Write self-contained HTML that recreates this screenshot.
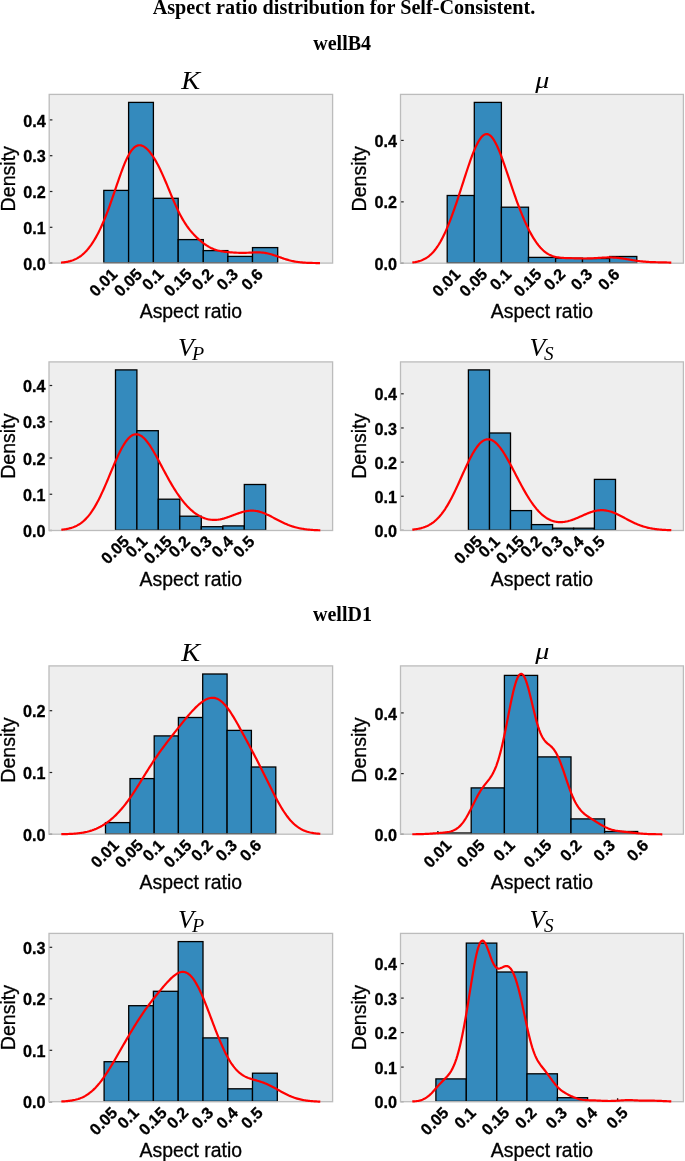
<!DOCTYPE html><html><head><meta charset="utf-8"><style>html,body{margin:0;padding:0;background:#fff;}svg{display:block;will-change:transform;}text{font-family:"Liberation Sans",sans-serif;}.tl{font-weight:bold;font-size:16.20px;fill:#000;stroke:#000;stroke-width:0.3px;}.al{font-size:19.40px;fill:#000;stroke:#000;stroke-width:0.3px;}.tt{font-family:"Liberation Serif",serif;font-style:italic;font-size:26.00px;fill:#000;}.sup{font-family:"Liberation Serif",serif;font-weight:bold;fill:#000;}</style></head><body>
<svg width="685" height="1161" viewBox="0 0 685 1161">
<rect width="685" height="1161" fill="#fff"/>
<text class="sup" x="344.0" y="13.60" text-anchor="middle" style="font-size:20.20px">Aspect ratio distribution for Self-Consistent.</text>
<text class="sup" x="342.2" y="49.8" text-anchor="middle" style="font-size:20.00px">wellB4</text>
<text class="sup" x="342.5" y="620.5" text-anchor="middle" style="font-size:20.00px">wellD1</text>
<rect x="49.20" y="94.40" width="283.40" height="168.70" fill="#eeeeee"/>
<rect x="103.80" y="190.40" width="24.80" height="72.40" fill="#348ABD" stroke="#000" stroke-width="1.3"/>
<rect x="128.60" y="102.40" width="24.80" height="160.40" fill="#348ABD" stroke="#000" stroke-width="1.3"/>
<rect x="153.40" y="198.30" width="24.80" height="64.50" fill="#348ABD" stroke="#000" stroke-width="1.3"/>
<rect x="178.20" y="239.60" width="25.10" height="23.20" fill="#348ABD" stroke="#000" stroke-width="1.3"/>
<rect x="203.30" y="250.60" width="24.60" height="12.20" fill="#348ABD" stroke="#000" stroke-width="1.3"/>
<rect x="227.90" y="256.40" width="24.60" height="6.40" fill="#348ABD" stroke="#000" stroke-width="1.3"/>
<rect x="252.50" y="247.60" width="25.20" height="15.20" fill="#348ABD" stroke="#000" stroke-width="1.3"/>
<line x1="49.20" y1="263.10" x2="52.40" y2="263.10" stroke="#222" stroke-width="1.2"/>
<line x1="49.20" y1="227.30" x2="52.40" y2="227.30" stroke="#222" stroke-width="1.2"/>
<line x1="49.20" y1="191.50" x2="52.40" y2="191.50" stroke="#222" stroke-width="1.2"/>
<line x1="49.20" y1="155.70" x2="52.40" y2="155.70" stroke="#222" stroke-width="1.2"/>
<line x1="49.20" y1="119.90" x2="52.40" y2="119.90" stroke="#222" stroke-width="1.2"/>
<rect x="49.20" y="94.40" width="283.40" height="168.70" fill="none" stroke="#bcbcbc" stroke-width="1.3"/>
<path d="M61.00,262.60 L62.00,262.51 L63.00,262.41 L64.00,262.29 L65.00,262.15 L66.00,262.00 L67.00,261.82 L68.00,261.62 L69.00,261.39 L70.00,261.14 L71.00,260.85 L72.00,260.54 L73.00,260.18 L74.00,259.79 L75.00,259.36 L76.00,258.89 L77.00,258.37 L78.00,257.80 L79.00,257.18 L80.00,256.51 L81.00,255.78 L82.00,254.99 L83.00,254.15 L84.00,253.25 L85.00,252.28 L86.00,251.25 L87.00,250.15 L88.00,248.98 L89.00,247.75 L90.00,246.45 L91.00,245.08 L92.00,243.63 L93.00,242.11 L94.00,240.52 L95.00,238.86 L96.00,237.12 L97.00,235.30 L98.00,233.41 L99.00,231.44 L100.00,229.39 L101.00,227.27 L102.00,225.06 L103.00,222.78 L104.00,220.43 L105.00,217.99 L106.00,215.49 L107.00,212.91 L108.00,210.27 L109.00,207.57 L110.00,204.80 L111.00,201.98 L112.00,199.12 L113.00,196.23 L114.00,193.30 L115.00,190.36 L116.00,187.41 L117.00,184.46 L118.00,181.53 L119.00,178.64 L120.00,175.79 L121.00,173.00 L122.00,170.28 L123.00,167.65 L124.00,165.12 L125.00,162.70 L126.00,160.41 L127.00,158.26 L128.00,156.25 L129.00,154.40 L130.00,152.71 L131.00,151.19 L132.00,149.85 L133.00,148.67 L134.00,147.67 L135.00,146.85 L136.00,146.20 L137.00,145.72 L138.00,145.41 L139.00,145.25 L140.00,145.25 L141.00,145.40 L142.00,145.69 L143.00,146.11 L144.00,146.66 L145.00,147.34 L146.00,148.12 L147.00,149.02 L148.00,150.02 L149.00,151.12 L150.00,152.32 L151.00,153.62 L152.00,155.00 L153.00,156.47 L154.00,158.03 L155.00,159.68 L156.00,161.41 L157.00,163.22 L158.00,165.10 L159.00,167.07 L160.00,169.10 L161.00,171.21 L162.00,173.37 L163.00,175.60 L164.00,177.88 L165.00,180.20 L166.00,182.55 L167.00,184.94 L168.00,187.34 L169.00,189.76 L170.00,192.17 L171.00,194.58 L172.00,196.97 L173.00,199.32 L174.00,201.65 L175.00,203.93 L176.00,206.15 L177.00,208.32 L178.00,210.42 L179.00,212.46 L180.00,214.43 L181.00,216.32 L182.00,218.14 L183.00,219.88 L184.00,221.55 L185.00,223.14 L186.00,224.66 L187.00,226.12 L188.00,227.51 L189.00,228.84 L190.00,230.12 L191.00,231.34 L192.00,232.51 L193.00,233.63 L194.00,234.71 L195.00,235.75 L196.00,236.76 L197.00,237.73 L198.00,238.66 L199.00,239.57 L200.00,240.44 L201.00,241.28 L202.00,242.09 L203.00,242.87 L204.00,243.62 L205.00,244.33 L206.00,245.02 L207.00,245.67 L208.00,246.28 L209.00,246.86 L210.00,247.40 L211.00,247.91 L212.00,248.38 L213.00,248.82 L214.00,249.22 L215.00,249.59 L216.00,249.92 L217.00,250.23 L218.00,250.51 L219.00,250.75 L220.00,250.98 L221.00,251.18 L222.00,251.36 L223.00,251.52 L224.00,251.67 L225.00,251.80 L226.00,251.92 L227.00,252.03 L228.00,252.13 L229.00,252.22 L230.00,252.30 L231.00,252.38 L232.00,252.45 L233.00,252.52 L234.00,252.58 L235.00,252.64 L236.00,252.69 L237.00,252.73 L238.00,252.77 L239.00,252.80 L240.00,252.83 L241.00,252.84 L242.00,252.85 L243.00,252.85 L244.00,252.84 L245.00,252.82 L246.00,252.80 L247.00,252.76 L248.00,252.73 L249.00,252.68 L250.00,252.64 L251.00,252.59 L252.00,252.54 L253.00,252.50 L254.00,252.46 L255.00,252.42 L256.00,252.40 L257.00,252.39 L258.00,252.39 L259.00,252.40 L260.00,252.44 L261.00,252.49 L262.00,252.57 L263.00,252.66 L264.00,252.78 L265.00,252.93 L266.00,253.09 L267.00,253.28 L268.00,253.49 L269.00,253.73 L270.00,253.99 L271.00,254.26 L272.00,254.55 L273.00,254.86 L274.00,255.19 L275.00,255.52 L276.00,255.87 L277.00,256.22 L278.00,256.58 L279.00,256.94 L280.00,257.29 L281.00,257.65 L282.00,258.00 L283.00,258.35 L284.00,258.69 L285.00,259.02 L286.00,259.33 L287.00,259.64 L288.00,259.93 L289.00,260.21 L290.00,260.47 L291.00,260.72 L292.00,260.95 L293.00,261.16 L294.00,261.36 L295.00,261.55 L296.00,261.72 L297.00,261.88 L298.00,262.02 L299.00,262.15 L300.00,262.26 L301.00,262.37 L302.00,262.46 L303.00,262.55 L304.00,262.62 L305.00,262.69 L306.00,262.75 L307.00,262.80 L308.00,262.84 L309.00,262.88 L310.00,262.91 L311.00,262.94 L312.00,262.97 L313.00,262.99 L314.00,263.01 L315.00,263.02 L316.00,263.04 L317.00,263.05 L318.00,263.06 L319.00,263.06 L320.00,263.07" fill="none" stroke="#ff0000" stroke-width="2.2" stroke-linejoin="round" stroke-linecap="butt"/>
<text class="tl" x="45.70" y="269.73" text-anchor="end">0.0</text>
<text class="tl" x="45.70" y="233.93" text-anchor="end">0.1</text>
<text class="tl" x="45.70" y="198.13" text-anchor="end">0.2</text>
<text class="tl" x="45.70" y="162.33" text-anchor="end">0.3</text>
<text class="tl" x="45.70" y="126.53" text-anchor="end">0.4</text>
<text class="tl" transform="translate(118.25,275.30) rotate(-45)" x="0" y="0" text-anchor="end">0.01</text>
<text class="tl" transform="translate(143.05,275.30) rotate(-45)" x="0" y="0" text-anchor="end">0.05</text>
<text class="tl" transform="translate(164.66,275.30) rotate(-45)" x="0" y="0" text-anchor="end">0.1</text>
<text class="tl" transform="translate(192.80,275.30) rotate(-45)" x="0" y="0" text-anchor="end">0.15</text>
<text class="tl" transform="translate(214.46,275.30) rotate(-45)" x="0" y="0" text-anchor="end">0.2</text>
<text class="tl" transform="translate(239.06,275.30) rotate(-45)" x="0" y="0" text-anchor="end">0.3</text>
<text class="tl" transform="translate(263.96,275.30) rotate(-45)" x="0" y="0" text-anchor="end">0.6</text>
<text class="al" x="190.90" y="318.10" text-anchor="middle">Aspect ratio</text>
<text class="al" transform="translate(14.70,178.75) rotate(-90)" x="0" y="0" text-anchor="middle" style="font-size:19.60px">Density</text>
<text class="tt" transform="translate(181.30,89.00) scale(1.170,1)" style="font-size:24.20px">K</text>
<rect x="400.50" y="94.40" width="282.90" height="168.80" fill="#eeeeee"/>
<rect x="447.20" y="195.50" width="27.10" height="67.40" fill="#348ABD" stroke="#000" stroke-width="1.3"/>
<rect x="474.30" y="102.40" width="27.10" height="160.50" fill="#348ABD" stroke="#000" stroke-width="1.3"/>
<rect x="501.40" y="207.20" width="27.10" height="55.70" fill="#348ABD" stroke="#000" stroke-width="1.3"/>
<rect x="528.50" y="257.40" width="27.10" height="5.50" fill="#348ABD" stroke="#000" stroke-width="1.3"/>
<rect x="555.60" y="258.20" width="26.90" height="4.70" fill="#348ABD" stroke="#000" stroke-width="1.3"/>
<rect x="582.50" y="258.50" width="27.10" height="4.40" fill="#348ABD" stroke="#000" stroke-width="1.3"/>
<rect x="609.60" y="256.50" width="27.20" height="6.40" fill="#348ABD" stroke="#000" stroke-width="1.3"/>
<line x1="400.50" y1="263.30" x2="403.70" y2="263.30" stroke="#222" stroke-width="1.2"/>
<line x1="400.50" y1="201.86" x2="403.70" y2="201.86" stroke="#222" stroke-width="1.2"/>
<line x1="400.50" y1="140.42" x2="403.70" y2="140.42" stroke="#222" stroke-width="1.2"/>
<rect x="400.50" y="94.40" width="282.90" height="168.80" fill="none" stroke="#bcbcbc" stroke-width="1.3"/>
<path d="M412.30,262.52 L413.30,262.38 L414.30,262.23 L415.30,262.06 L416.30,261.86 L417.30,261.64 L418.30,261.39 L419.30,261.10 L420.30,260.79 L421.30,260.43 L422.30,260.03 L423.30,259.59 L424.30,259.10 L425.30,258.55 L426.30,257.95 L427.30,257.30 L428.30,256.58 L429.30,255.79 L430.30,254.93 L431.30,254.00 L432.30,253.00 L433.30,251.92 L434.30,250.75 L435.30,249.50 L436.30,248.17 L437.30,246.75 L438.30,245.23 L439.30,243.63 L440.30,241.94 L441.30,240.15 L442.30,238.27 L443.30,236.30 L444.30,234.24 L445.30,232.09 L446.30,229.85 L447.30,227.53 L448.30,225.12 L449.30,222.64 L450.30,220.07 L451.30,217.43 L452.30,214.73 L453.30,211.95 L454.30,209.12 L455.30,206.23 L456.30,203.29 L457.30,200.30 L458.30,197.27 L459.30,194.21 L460.30,191.13 L461.30,188.02 L462.30,184.91 L463.30,181.79 L464.30,178.68 L465.30,175.58 L466.30,172.51 L467.30,169.47 L468.30,166.48 L469.30,163.55 L470.30,160.68 L471.30,157.90 L472.30,155.21 L473.30,152.63 L474.30,150.17 L475.30,147.84 L476.30,145.65 L477.30,143.62 L478.30,141.75 L479.30,140.07 L480.30,138.58 L481.30,137.28 L482.30,136.20 L483.30,135.33 L484.30,134.68 L485.30,134.26 L486.30,134.07 L487.30,134.12 L488.30,134.39 L489.30,134.89 L490.30,135.62 L491.30,136.58 L492.30,137.74 L493.30,139.12 L494.30,140.69 L495.30,142.46 L496.30,144.39 L497.30,146.49 L498.30,148.75 L499.30,151.13 L500.30,153.65 L501.30,156.26 L502.30,158.98 L503.30,161.77 L504.30,164.62 L505.30,167.53 L506.30,170.48 L507.30,173.45 L508.30,176.44 L509.30,179.43 L510.30,182.42 L511.30,185.39 L512.30,188.34 L513.30,191.26 L514.30,194.15 L515.30,196.99 L516.30,199.79 L517.30,202.53 L518.30,205.22 L519.30,207.86 L520.30,210.43 L521.30,212.95 L522.30,215.40 L523.30,217.79 L524.30,220.10 L525.30,222.36 L526.30,224.54 L527.30,226.65 L528.30,228.70 L529.30,230.67 L530.30,232.57 L531.30,234.40 L532.30,236.15 L533.30,237.83 L534.30,239.43 L535.30,240.96 L536.30,242.41 L537.30,243.78 L538.30,245.08 L539.30,246.31 L540.30,247.45 L541.30,248.53 L542.30,249.53 L543.30,250.46 L544.30,251.32 L545.30,252.11 L546.30,252.84 L547.30,253.50 L548.30,254.10 L549.30,254.64 L550.30,255.13 L551.30,255.56 L552.30,255.95 L553.30,256.29 L554.30,256.58 L555.30,256.84 L556.30,257.07 L557.30,257.26 L558.30,257.42 L559.30,257.56 L560.30,257.68 L561.30,257.77 L562.30,257.85 L563.30,257.92 L564.30,257.98 L565.30,258.03 L566.30,258.07 L567.30,258.10 L568.30,258.14 L569.30,258.17 L570.30,258.19 L571.30,258.22 L572.30,258.25 L573.30,258.27 L574.30,258.30 L575.30,258.33 L576.30,258.35 L577.30,258.38 L578.30,258.40 L579.30,258.43 L580.30,258.45 L581.30,258.46 L582.30,258.48 L583.30,258.49 L584.30,258.49 L585.30,258.49 L586.30,258.48 L587.30,258.47 L588.30,258.45 L589.30,258.43 L590.30,258.39 L591.30,258.36 L592.30,258.31 L593.30,258.26 L594.30,258.20 L595.30,258.14 L596.30,258.08 L597.30,258.01 L598.30,257.94 L599.30,257.88 L600.30,257.81 L601.30,257.74 L602.30,257.68 L603.30,257.62 L604.30,257.57 L605.30,257.53 L606.30,257.49 L607.30,257.46 L608.30,257.44 L609.30,257.44 L610.30,257.44 L611.30,257.46 L612.30,257.49 L613.30,257.53 L614.30,257.59 L615.30,257.65 L616.30,257.73 L617.30,257.83 L618.30,257.93 L619.30,258.05 L620.30,258.17 L621.30,258.31 L622.30,258.46 L623.30,258.61 L624.30,258.76 L625.30,258.93 L626.30,259.09 L627.30,259.26 L628.30,259.44 L629.30,259.61 L630.30,259.78 L631.30,259.95 L632.30,260.11 L633.30,260.28 L634.30,260.43 L635.30,260.59 L636.30,260.73 L637.30,260.87 L638.30,261.00 L639.30,261.13 L640.30,261.25 L641.30,261.36 L642.30,261.46 L643.30,261.56 L644.30,261.64 L645.30,261.72 L646.30,261.80 L647.30,261.86 L648.30,261.92 L649.30,261.98 L650.30,262.03 L651.30,262.07 L652.30,262.11 L653.30,262.15 L654.30,262.18 L655.30,262.21 L656.30,262.24 L657.30,262.26 L658.30,262.28 L659.30,262.31 L660.30,262.33 L661.30,262.35 L662.30,262.37 L663.30,262.39 L664.30,262.41 L665.30,262.44 L666.30,262.46 L667.30,262.48 L668.30,262.50 L669.30,262.53 L670.30,262.56 L671.30,262.58" fill="none" stroke="#ff0000" stroke-width="2.2" stroke-linejoin="round" stroke-linecap="butt"/>
<text class="tl" x="397.00" y="269.93" text-anchor="end">0.0</text>
<text class="tl" x="397.00" y="208.49" text-anchor="end">0.2</text>
<text class="tl" x="397.00" y="147.05" text-anchor="end">0.4</text>
<text class="tl" transform="translate(461.30,275.40) rotate(-45)" x="0" y="0" text-anchor="end">0.01</text>
<text class="tl" transform="translate(488.40,275.40) rotate(-45)" x="0" y="0" text-anchor="end">0.05</text>
<text class="tl" transform="translate(512.31,275.40) rotate(-45)" x="0" y="0" text-anchor="end">0.1</text>
<text class="tl" transform="translate(542.60,275.40) rotate(-45)" x="0" y="0" text-anchor="end">0.15</text>
<text class="tl" transform="translate(566.41,275.40) rotate(-45)" x="0" y="0" text-anchor="end">0.2</text>
<text class="tl" transform="translate(593.41,275.40) rotate(-45)" x="0" y="0" text-anchor="end">0.3</text>
<text class="tl" transform="translate(620.56,275.40) rotate(-45)" x="0" y="0" text-anchor="end">0.6</text>
<text class="al" x="541.95" y="318.20" text-anchor="middle">Aspect ratio</text>
<text class="al" transform="translate(366.00,178.80) rotate(-90)" x="0" y="0" text-anchor="middle" style="font-size:19.60px">Density</text>
<text class="tt" transform="translate(535.30,87.80) scale(1.170,1)" style="font-size:24.00px">&#956;</text>
<rect x="49.00" y="361.90" width="283.60" height="168.60" fill="#eeeeee"/>
<rect x="115.50" y="369.90" width="21.40" height="160.30" fill="#348ABD" stroke="#000" stroke-width="1.3"/>
<rect x="136.90" y="430.70" width="21.40" height="99.50" fill="#348ABD" stroke="#000" stroke-width="1.3"/>
<rect x="158.30" y="499.20" width="21.50" height="31.00" fill="#348ABD" stroke="#000" stroke-width="1.3"/>
<rect x="179.80" y="516.20" width="21.50" height="14.00" fill="#348ABD" stroke="#000" stroke-width="1.3"/>
<rect x="201.30" y="526.70" width="21.60" height="3.50" fill="#348ABD" stroke="#000" stroke-width="1.3"/>
<rect x="222.90" y="525.90" width="21.40" height="4.30" fill="#348ABD" stroke="#000" stroke-width="1.3"/>
<rect x="244.30" y="484.50" width="21.40" height="45.70" fill="#348ABD" stroke="#000" stroke-width="1.3"/>
<line x1="49.00" y1="530.50" x2="52.20" y2="530.50" stroke="#222" stroke-width="1.2"/>
<line x1="49.00" y1="494.25" x2="52.20" y2="494.25" stroke="#222" stroke-width="1.2"/>
<line x1="49.00" y1="458.00" x2="52.20" y2="458.00" stroke="#222" stroke-width="1.2"/>
<line x1="49.00" y1="421.75" x2="52.20" y2="421.75" stroke="#222" stroke-width="1.2"/>
<line x1="49.00" y1="385.50" x2="52.20" y2="385.50" stroke="#222" stroke-width="1.2"/>
<rect x="49.00" y="361.90" width="283.60" height="168.60" fill="none" stroke="#bcbcbc" stroke-width="1.3"/>
<path d="M61.30,529.76 L62.30,529.65 L63.30,529.53 L64.30,529.39 L65.30,529.24 L66.30,529.07 L67.30,528.88 L68.30,528.67 L69.30,528.43 L70.30,528.16 L71.30,527.87 L72.30,527.55 L73.30,527.19 L74.30,526.80 L75.30,526.37 L76.30,525.90 L77.30,525.39 L78.30,524.83 L79.30,524.22 L80.30,523.56 L81.30,522.85 L82.30,522.08 L83.30,521.24 L84.30,520.35 L85.30,519.39 L86.30,518.37 L87.30,517.27 L88.30,516.11 L89.30,514.87 L90.30,513.56 L91.30,512.18 L92.30,510.72 L93.30,509.18 L94.30,507.57 L95.30,505.88 L96.30,504.13 L97.30,502.29 L98.30,500.39 L99.30,498.42 L100.30,496.39 L101.30,494.29 L102.30,492.14 L103.30,489.94 L104.30,487.69 L105.30,485.39 L106.30,483.07 L107.30,480.71 L108.30,478.33 L109.30,475.94 L110.30,473.53 L111.30,471.13 L112.30,468.74 L113.30,466.37 L114.30,464.02 L115.30,461.71 L116.30,459.44 L117.30,457.23 L118.30,455.07 L119.30,452.98 L120.30,450.97 L121.30,449.05 L122.30,447.22 L123.30,445.48 L124.30,443.86 L125.30,442.34 L126.30,440.95 L127.30,439.67 L128.30,438.53 L129.30,437.51 L130.30,436.63 L131.30,435.88 L132.30,435.28 L133.30,434.81 L134.30,434.48 L135.30,434.29 L136.30,434.24 L137.30,434.33 L138.30,434.55 L139.30,434.90 L140.30,435.39 L141.30,435.99 L142.30,436.72 L143.30,437.56 L144.30,438.51 L145.30,439.56 L146.30,440.72 L147.30,441.97 L148.30,443.30 L149.30,444.72 L150.30,446.21 L151.30,447.76 L152.30,449.38 L153.30,451.05 L154.30,452.77 L155.30,454.53 L156.30,456.33 L157.30,458.15 L158.30,460.00 L159.30,461.87 L160.30,463.75 L161.30,465.63 L162.30,467.52 L163.30,469.40 L164.30,471.28 L165.30,473.14 L166.30,474.99 L167.30,476.82 L168.30,478.63 L169.30,480.42 L170.30,482.17 L171.30,483.90 L172.30,485.59 L173.30,487.25 L174.30,488.87 L175.30,490.45 L176.30,491.99 L177.30,493.50 L178.30,494.96 L179.30,496.38 L180.30,497.76 L181.30,499.10 L182.30,500.39 L183.30,501.64 L184.30,502.85 L185.30,504.01 L186.30,505.13 L187.30,506.21 L188.30,507.24 L189.30,508.23 L190.30,509.18 L191.30,510.09 L192.30,510.95 L193.30,511.78 L194.30,512.56 L195.30,513.30 L196.30,514.00 L197.30,514.66 L198.30,515.28 L199.30,515.86 L200.30,516.39 L201.30,516.89 L202.30,517.35 L203.30,517.77 L204.30,518.16 L205.30,518.50 L206.30,518.80 L207.30,519.07 L208.30,519.30 L209.30,519.49 L210.30,519.65 L211.30,519.76 L212.30,519.85 L213.30,519.89 L214.30,519.91 L215.30,519.89 L216.30,519.83 L217.30,519.75 L218.30,519.63 L219.30,519.48 L220.30,519.31 L221.30,519.10 L222.30,518.88 L223.30,518.62 L224.30,518.35 L225.30,518.05 L226.30,517.74 L227.30,517.41 L228.30,517.06 L229.30,516.71 L230.30,516.34 L231.30,515.97 L232.30,515.59 L233.30,515.20 L234.30,514.82 L235.30,514.44 L236.30,514.07 L237.30,513.70 L238.30,513.34 L239.30,513.00 L240.30,512.67 L241.30,512.35 L242.30,512.06 L243.30,511.79 L244.30,511.55 L245.30,511.33 L246.30,511.14 L247.30,510.98 L248.30,510.85 L249.30,510.75 L250.30,510.68 L251.30,510.65 L252.30,510.65 L253.30,510.69 L254.30,510.77 L255.30,510.88 L256.30,511.02 L257.30,511.20 L258.30,511.41 L259.30,511.66 L260.30,511.94 L261.30,512.24 L262.30,512.58 L263.30,512.94 L264.30,513.33 L265.30,513.74 L266.30,514.18 L267.30,514.63 L268.30,515.10 L269.30,515.59 L270.30,516.09 L271.30,516.59 L272.30,517.11 L273.30,517.63 L274.30,518.16 L275.30,518.69 L276.30,519.22 L277.30,519.74 L278.30,520.26 L279.30,520.78 L280.30,521.29 L281.30,521.79 L282.30,522.27 L283.30,522.75 L284.30,523.21 L285.30,523.66 L286.30,524.09 L287.30,524.51 L288.30,524.92 L289.30,525.30 L290.30,525.67 L291.30,526.02 L292.30,526.36 L293.30,526.67 L294.30,526.97 L295.30,527.25 L296.30,527.52 L297.30,527.77 L298.30,528.00 L299.30,528.22 L300.30,528.43 L301.30,528.61 L302.30,528.79 L303.30,528.95 L304.30,529.10 L305.30,529.24 L306.30,529.37 L307.30,529.48 L308.30,529.59 L309.30,529.68 L310.30,529.77 L311.30,529.85 L312.30,529.92 L313.30,529.99 L314.30,530.05 L315.30,530.10 L316.30,530.15 L317.30,530.19 L318.30,530.23 L319.30,530.26 L320.30,530.29" fill="none" stroke="#ff0000" stroke-width="2.2" stroke-linejoin="round" stroke-linecap="butt"/>
<text class="tl" x="45.50" y="537.13" text-anchor="end">0.0</text>
<text class="tl" x="45.50" y="500.88" text-anchor="end">0.1</text>
<text class="tl" x="45.50" y="464.63" text-anchor="end">0.2</text>
<text class="tl" x="45.50" y="428.38" text-anchor="end">0.3</text>
<text class="tl" x="45.50" y="392.13" text-anchor="end">0.4</text>
<text class="tl" transform="translate(130.05,542.70) rotate(-45)" x="0" y="0" text-anchor="end">0.05</text>
<text class="tl" transform="translate(148.26,542.70) rotate(-45)" x="0" y="0" text-anchor="end">0.1</text>
<text class="tl" transform="translate(172.90,542.70) rotate(-45)" x="0" y="0" text-anchor="end">0.15</text>
<text class="tl" transform="translate(191.21,542.70) rotate(-45)" x="0" y="0" text-anchor="end">0.2</text>
<text class="tl" transform="translate(212.76,542.70) rotate(-45)" x="0" y="0" text-anchor="end">0.3</text>
<text class="tl" transform="translate(234.26,542.70) rotate(-45)" x="0" y="0" text-anchor="end">0.4</text>
<text class="tl" transform="translate(255.66,542.70) rotate(-45)" x="0" y="0" text-anchor="end">0.5</text>
<text class="al" x="190.80" y="585.50" text-anchor="middle">Aspect ratio</text>
<text class="al" transform="translate(14.50,446.20) rotate(-90)" x="0" y="0" text-anchor="middle" style="font-size:19.60px">Density</text>
<text class="tt" transform="translate(178.00,356.00) scale(1.000,1)" style="font-size:26.00px">V</text>
<text class="tt" transform="translate(192.00,360.00) scale(1.120,1)" style="font-size:17.80px">P</text>
<rect x="400.50" y="361.90" width="282.90" height="168.60" fill="#eeeeee"/>
<rect x="468.40" y="369.90" width="21.10" height="160.30" fill="#348ABD" stroke="#000" stroke-width="1.3"/>
<rect x="489.50" y="433.00" width="21.00" height="97.20" fill="#348ABD" stroke="#000" stroke-width="1.3"/>
<rect x="510.50" y="510.60" width="21.00" height="19.60" fill="#348ABD" stroke="#000" stroke-width="1.3"/>
<rect x="531.50" y="524.60" width="21.10" height="5.60" fill="#348ABD" stroke="#000" stroke-width="1.3"/>
<rect x="552.60" y="528.20" width="21.00" height="2.00" fill="#348ABD" stroke="#000" stroke-width="1.3"/>
<rect x="573.60" y="528.20" width="20.80" height="2.00" fill="#348ABD" stroke="#000" stroke-width="1.3"/>
<rect x="594.40" y="479.40" width="21.10" height="50.80" fill="#348ABD" stroke="#000" stroke-width="1.3"/>
<line x1="400.50" y1="530.40" x2="403.70" y2="530.40" stroke="#222" stroke-width="1.2"/>
<line x1="400.50" y1="496.25" x2="403.70" y2="496.25" stroke="#222" stroke-width="1.2"/>
<line x1="400.50" y1="462.10" x2="403.70" y2="462.10" stroke="#222" stroke-width="1.2"/>
<line x1="400.50" y1="427.95" x2="403.70" y2="427.95" stroke="#222" stroke-width="1.2"/>
<line x1="400.50" y1="393.80" x2="403.70" y2="393.80" stroke="#222" stroke-width="1.2"/>
<rect x="400.50" y="361.90" width="282.90" height="168.60" fill="none" stroke="#bcbcbc" stroke-width="1.3"/>
<path d="M412.30,529.65 L413.30,529.54 L414.30,529.42 L415.30,529.28 L416.30,529.13 L417.30,528.97 L418.30,528.78 L419.30,528.57 L420.30,528.34 L421.30,528.09 L422.30,527.80 L423.30,527.49 L424.30,527.15 L425.30,526.78 L426.30,526.37 L427.30,525.92 L428.30,525.43 L429.30,524.90 L430.30,524.32 L431.30,523.70 L432.30,523.02 L433.30,522.29 L434.30,521.51 L435.30,520.67 L436.30,519.77 L437.30,518.81 L438.30,517.79 L439.30,516.70 L440.30,515.55 L441.30,514.33 L442.30,513.04 L443.30,511.69 L444.30,510.26 L445.30,508.77 L446.30,507.20 L447.30,505.57 L448.30,503.88 L449.30,502.12 L450.30,500.30 L451.30,498.42 L452.30,496.48 L453.30,494.50 L454.30,492.46 L455.30,490.38 L456.30,488.26 L457.30,486.10 L458.30,483.92 L459.30,481.72 L460.30,479.50 L461.30,477.28 L462.30,475.05 L463.30,472.82 L464.30,470.62 L465.30,468.43 L466.30,466.27 L467.30,464.14 L468.30,462.06 L469.30,460.03 L470.30,458.06 L471.30,456.16 L472.30,454.32 L473.30,452.57 L474.30,450.91 L475.30,449.34 L476.30,447.86 L477.30,446.49 L478.30,445.23 L479.30,444.08 L480.30,443.05 L481.30,442.13 L482.30,441.34 L483.30,440.68 L484.30,440.14 L485.30,439.72 L486.30,439.44 L487.30,439.28 L488.30,439.25 L489.30,439.34 L490.30,439.56 L491.30,439.90 L492.30,440.36 L493.30,440.94 L494.30,441.63 L495.30,442.43 L496.30,443.33 L497.30,444.33 L498.30,445.44 L499.30,446.63 L500.30,447.91 L501.30,449.27 L502.30,450.70 L503.30,452.21 L504.30,453.78 L505.30,455.41 L506.30,457.09 L507.30,458.83 L508.30,460.60 L509.30,462.41 L510.30,464.26 L511.30,466.13 L512.30,468.02 L513.30,469.93 L514.30,471.85 L515.30,473.77 L516.30,475.70 L517.30,477.62 L518.30,479.54 L519.30,481.44 L520.30,483.33 L521.30,485.19 L522.30,487.03 L523.30,488.85 L524.30,490.63 L525.30,492.38 L526.30,494.09 L527.30,495.76 L528.30,497.39 L529.30,498.98 L530.30,500.51 L531.30,502.00 L532.30,503.44 L533.30,504.83 L534.30,506.16 L535.30,507.44 L536.30,508.67 L537.30,509.84 L538.30,510.95 L539.30,512.01 L540.30,513.01 L541.30,513.96 L542.30,514.84 L543.30,515.68 L544.30,516.46 L545.30,517.18 L546.30,517.85 L547.30,518.47 L548.30,519.03 L549.30,519.55 L550.30,520.01 L551.30,520.42 L552.30,520.79 L553.30,521.11 L554.30,521.38 L555.30,521.61 L556.30,521.79 L557.30,521.94 L558.30,522.04 L559.30,522.10 L560.30,522.12 L561.30,522.11 L562.30,522.05 L563.30,521.97 L564.30,521.85 L565.30,521.70 L566.30,521.51 L567.30,521.30 L568.30,521.06 L569.30,520.79 L570.30,520.50 L571.30,520.18 L572.30,519.84 L573.30,519.48 L574.30,519.11 L575.30,518.71 L576.30,518.31 L577.30,517.89 L578.30,517.46 L579.30,517.02 L580.30,516.58 L581.30,516.13 L582.30,515.69 L583.30,515.24 L584.30,514.80 L585.30,514.37 L586.30,513.94 L587.30,513.53 L588.30,513.13 L589.30,512.74 L590.30,512.38 L591.30,512.04 L592.30,511.72 L593.30,511.42 L594.30,511.15 L595.30,510.92 L596.30,510.71 L597.30,510.53 L598.30,510.39 L599.30,510.28 L600.30,510.21 L601.30,510.17 L602.30,510.17 L603.30,510.21 L604.30,510.29 L605.30,510.40 L606.30,510.55 L607.30,510.73 L608.30,510.95 L609.30,511.20 L610.30,511.48 L611.30,511.79 L612.30,512.14 L613.30,512.51 L614.30,512.91 L615.30,513.33 L616.30,513.77 L617.30,514.23 L618.30,514.71 L619.30,515.21 L620.30,515.71 L621.30,516.23 L622.30,516.75 L623.30,517.29 L624.30,517.82 L625.30,518.36 L626.30,518.89 L627.30,519.42 L628.30,519.95 L629.30,520.47 L630.30,520.99 L631.30,521.49 L632.30,521.99 L633.30,522.47 L634.30,522.94 L635.30,523.39 L636.30,523.83 L637.30,524.26 L638.30,524.66 L639.30,525.05 L640.30,525.43 L641.30,525.79 L642.30,526.13 L643.30,526.45 L644.30,526.75 L645.30,527.04 L646.30,527.31 L647.30,527.57 L648.30,527.81 L649.30,528.03 L650.30,528.24 L651.30,528.43 L652.30,528.61 L653.30,528.78 L654.30,528.93 L655.30,529.07 L656.30,529.20 L657.30,529.32 L658.30,529.43 L659.30,529.53 L660.30,529.62 L661.30,529.71 L662.30,529.78 L663.30,529.85 L664.30,529.91 L665.30,529.97 L666.30,530.02 L667.30,530.06 L668.30,530.10 L669.30,530.14 L670.30,530.17 L671.30,530.20" fill="none" stroke="#ff0000" stroke-width="2.2" stroke-linejoin="round" stroke-linecap="butt"/>
<text class="tl" x="397.00" y="537.03" text-anchor="end">0.0</text>
<text class="tl" x="397.00" y="502.88" text-anchor="end">0.1</text>
<text class="tl" x="397.00" y="468.73" text-anchor="end">0.2</text>
<text class="tl" x="397.00" y="434.58" text-anchor="end">0.3</text>
<text class="tl" x="397.00" y="400.43" text-anchor="end">0.4</text>
<text class="tl" transform="translate(483.00,542.70) rotate(-45)" x="0" y="0" text-anchor="end">0.05</text>
<text class="tl" transform="translate(500.86,542.70) rotate(-45)" x="0" y="0" text-anchor="end">0.1</text>
<text class="tl" transform="translate(525.05,542.70) rotate(-45)" x="0" y="0" text-anchor="end">0.15</text>
<text class="tl" transform="translate(542.91,542.70) rotate(-45)" x="0" y="0" text-anchor="end">0.2</text>
<text class="tl" transform="translate(563.96,542.70) rotate(-45)" x="0" y="0" text-anchor="end">0.3</text>
<text class="tl" transform="translate(584.86,542.70) rotate(-45)" x="0" y="0" text-anchor="end">0.4</text>
<text class="tl" transform="translate(605.81,542.70) rotate(-45)" x="0" y="0" text-anchor="end">0.5</text>
<text class="al" x="541.95" y="585.50" text-anchor="middle">Aspect ratio</text>
<text class="al" transform="translate(366.00,446.20) rotate(-90)" x="0" y="0" text-anchor="middle" style="font-size:19.60px">Density</text>
<text class="tt" transform="translate(529.60,356.00) scale(1.000,1)" style="font-size:26.00px">V</text>
<text class="tt" transform="translate(544.00,360.00) scale(1.080,1)" style="font-size:17.80px">S</text>
<rect x="49.00" y="665.90" width="283.60" height="168.30" fill="#eeeeee"/>
<rect x="105.50" y="822.60" width="24.50" height="11.30" fill="#348ABD" stroke="#000" stroke-width="1.3"/>
<rect x="130.00" y="778.60" width="24.20" height="55.30" fill="#348ABD" stroke="#000" stroke-width="1.3"/>
<rect x="154.20" y="735.90" width="24.20" height="98.00" fill="#348ABD" stroke="#000" stroke-width="1.3"/>
<rect x="178.40" y="717.50" width="24.30" height="116.40" fill="#348ABD" stroke="#000" stroke-width="1.3"/>
<rect x="202.70" y="674.00" width="24.40" height="159.90" fill="#348ABD" stroke="#000" stroke-width="1.3"/>
<rect x="227.10" y="730.40" width="24.30" height="103.50" fill="#348ABD" stroke="#000" stroke-width="1.3"/>
<rect x="251.40" y="767.00" width="24.40" height="66.90" fill="#348ABD" stroke="#000" stroke-width="1.3"/>
<line x1="49.00" y1="834.30" x2="52.20" y2="834.30" stroke="#222" stroke-width="1.2"/>
<line x1="49.00" y1="772.50" x2="52.20" y2="772.50" stroke="#222" stroke-width="1.2"/>
<line x1="49.00" y1="710.70" x2="52.20" y2="710.70" stroke="#222" stroke-width="1.2"/>
<rect x="49.00" y="665.90" width="283.60" height="168.30" fill="none" stroke="#bcbcbc" stroke-width="1.3"/>
<path d="M61.30,834.19 L62.30,834.17 L63.30,834.15 L64.30,834.13 L65.30,834.10 L66.30,834.08 L67.30,834.04 L68.30,834.00 L69.30,833.96 L70.30,833.91 L71.30,833.86 L72.30,833.80 L73.30,833.74 L74.30,833.66 L75.30,833.58 L76.30,833.49 L77.30,833.39 L78.30,833.28 L79.30,833.16 L80.30,833.03 L81.30,832.89 L82.30,832.73 L83.30,832.56 L84.30,832.37 L85.30,832.17 L86.30,831.95 L87.30,831.72 L88.30,831.46 L89.30,831.19 L90.30,830.90 L91.30,830.59 L92.30,830.26 L93.30,829.90 L94.30,829.53 L95.30,829.13 L96.30,828.71 L97.30,828.26 L98.30,827.79 L99.30,827.29 L100.30,826.77 L101.30,826.22 L102.30,825.65 L103.30,825.05 L104.30,824.42 L105.30,823.76 L106.30,823.08 L107.30,822.36 L108.30,821.62 L109.30,820.85 L110.30,820.05 L111.30,819.22 L112.30,818.36 L113.30,817.47 L114.30,816.55 L115.30,815.60 L116.30,814.61 L117.30,813.60 L118.30,812.55 L119.30,811.47 L120.30,810.36 L121.30,809.22 L122.30,808.05 L123.30,806.84 L124.30,805.60 L125.30,804.33 L126.30,803.03 L127.30,801.69 L128.30,800.33 L129.30,798.94 L130.30,797.52 L131.30,796.07 L132.30,794.60 L133.30,793.10 L134.30,791.59 L135.30,790.05 L136.30,788.49 L137.30,786.92 L138.30,785.33 L139.30,783.73 L140.30,782.12 L141.30,780.51 L142.30,778.89 L143.30,777.27 L144.30,775.65 L145.30,774.03 L146.30,772.42 L147.30,770.82 L148.30,769.23 L149.30,767.65 L150.30,766.08 L151.30,764.53 L152.30,762.99 L153.30,761.47 L154.30,759.97 L155.30,758.49 L156.30,757.02 L157.30,755.57 L158.30,754.14 L159.30,752.73 L160.30,751.34 L161.30,749.96 L162.30,748.59 L163.30,747.24 L164.30,745.90 L165.30,744.57 L166.30,743.25 L167.30,741.94 L168.30,740.64 L169.30,739.34 L170.30,738.05 L171.30,736.76 L172.30,735.48 L173.30,734.20 L174.30,732.92 L175.30,731.65 L176.30,730.37 L177.30,729.11 L178.30,727.84 L179.30,726.58 L180.30,725.32 L181.30,724.07 L182.30,722.82 L183.30,721.58 L184.30,720.36 L185.30,719.14 L186.30,717.93 L187.30,716.73 L188.30,715.55 L189.30,714.39 L190.30,713.25 L191.30,712.12 L192.30,711.02 L193.30,709.94 L194.30,708.89 L195.30,707.87 L196.30,706.88 L197.30,705.93 L198.30,705.01 L199.30,704.13 L200.30,703.29 L201.30,702.50 L202.30,701.76 L203.30,701.07 L204.30,700.43 L205.30,699.86 L206.30,699.35 L207.30,698.90 L208.30,698.53 L209.30,698.23 L210.30,698.01 L211.30,697.86 L212.30,697.80 L213.30,697.83 L214.30,697.95 L215.30,698.15 L216.30,698.45 L217.30,698.84 L218.30,699.33 L219.30,699.91 L220.30,700.58 L221.30,701.34 L222.30,702.20 L223.30,703.15 L224.30,704.18 L225.30,705.29 L226.30,706.49 L227.30,707.76 L228.30,709.10 L229.30,710.51 L230.30,711.97 L231.30,713.50 L232.30,715.08 L233.30,716.70 L234.30,718.36 L235.30,720.06 L236.30,721.79 L237.30,723.55 L238.30,725.33 L239.30,727.13 L240.30,728.94 L241.30,730.77 L242.30,732.60 L243.30,734.44 L244.30,736.29 L245.30,738.15 L246.30,740.00 L247.30,741.86 L248.30,743.73 L249.30,745.60 L250.30,747.47 L251.30,749.35 L252.30,751.23 L253.30,753.13 L254.30,755.03 L255.30,756.94 L256.30,758.86 L257.30,760.80 L258.30,762.75 L259.30,764.70 L260.30,766.68 L261.30,768.66 L262.30,770.65 L263.30,772.66 L264.30,774.67 L265.30,776.70 L266.30,778.72 L267.30,780.75 L268.30,782.78 L269.30,784.81 L270.30,786.82 L271.30,788.83 L272.30,790.83 L273.30,792.80 L274.30,794.75 L275.30,796.68 L276.30,798.58 L277.30,800.44 L278.30,802.27 L279.30,804.05 L280.30,805.79 L281.30,807.49 L282.30,809.13 L283.30,810.72 L284.30,812.25 L285.30,813.72 L286.30,815.14 L287.30,816.49 L288.30,817.79 L289.30,819.02 L290.30,820.19 L291.30,821.30 L292.30,822.35 L293.30,823.33 L294.30,824.26 L295.30,825.13 L296.30,825.94 L297.30,826.70 L298.30,827.40 L299.30,828.06 L300.30,828.66 L301.30,829.22 L302.30,829.73 L303.30,830.20 L304.30,830.63 L305.30,831.02 L306.30,831.38 L307.30,831.70 L308.30,831.99 L309.30,832.26 L310.30,832.50 L311.30,832.71 L312.30,832.90 L313.30,833.07 L314.30,833.23 L315.30,833.36 L316.30,833.48 L317.30,833.59 L318.30,833.69 L319.30,833.77 L320.30,833.84" fill="none" stroke="#ff0000" stroke-width="2.2" stroke-linejoin="round" stroke-linecap="butt"/>
<text class="tl" x="45.50" y="840.93" text-anchor="end">0.0</text>
<text class="tl" x="45.50" y="779.13" text-anchor="end">0.1</text>
<text class="tl" x="45.50" y="717.33" text-anchor="end">0.2</text>
<text class="tl" transform="translate(119.80,846.40) rotate(-45)" x="0" y="0" text-anchor="end">0.01</text>
<text class="tl" transform="translate(144.15,846.40) rotate(-45)" x="0" y="0" text-anchor="end">0.05</text>
<text class="tl" transform="translate(165.16,846.40) rotate(-45)" x="0" y="0" text-anchor="end">0.1</text>
<text class="tl" transform="translate(192.60,846.40) rotate(-45)" x="0" y="0" text-anchor="end">0.15</text>
<text class="tl" transform="translate(213.76,846.40) rotate(-45)" x="0" y="0" text-anchor="end">0.2</text>
<text class="tl" transform="translate(238.11,846.40) rotate(-45)" x="0" y="0" text-anchor="end">0.3</text>
<text class="tl" transform="translate(262.46,846.40) rotate(-45)" x="0" y="0" text-anchor="end">0.6</text>
<text class="al" x="190.80" y="889.20" text-anchor="middle">Aspect ratio</text>
<text class="al" transform="translate(14.50,750.05) rotate(-90)" x="0" y="0" text-anchor="middle" style="font-size:19.60px">Density</text>
<text class="tt" transform="translate(181.20,660.50) scale(1.170,1)" style="font-size:24.20px">K</text>
<rect x="400.50" y="665.90" width="282.90" height="168.30" fill="#eeeeee"/>
<rect x="437.80" y="833.00" width="33.40" height="0.90" fill="#348ABD" stroke="#000" stroke-width="1.3"/>
<rect x="471.20" y="787.90" width="33.20" height="46.00" fill="#348ABD" stroke="#000" stroke-width="1.3"/>
<rect x="504.40" y="675.40" width="33.20" height="158.50" fill="#348ABD" stroke="#000" stroke-width="1.3"/>
<rect x="537.60" y="756.90" width="33.40" height="77.00" fill="#348ABD" stroke="#000" stroke-width="1.3"/>
<rect x="571.00" y="818.90" width="33.60" height="15.00" fill="#348ABD" stroke="#000" stroke-width="1.3"/>
<rect x="604.60" y="831.50" width="33.10" height="2.40" fill="#348ABD" stroke="#000" stroke-width="1.3"/>
<line x1="437.90" y1="830.90" x2="437.90" y2="834.30" stroke="#000" stroke-width="1.3"/>
<line x1="400.50" y1="834.30" x2="403.70" y2="834.30" stroke="#222" stroke-width="1.2"/>
<line x1="400.50" y1="773.60" x2="403.70" y2="773.60" stroke="#222" stroke-width="1.2"/>
<line x1="400.50" y1="712.90" x2="403.70" y2="712.90" stroke="#222" stroke-width="1.2"/>
<rect x="400.50" y="665.90" width="282.90" height="168.30" fill="none" stroke="#bcbcbc" stroke-width="1.3"/>
<path d="M412.30,834.26 L413.30,834.25 L414.30,834.24 L415.30,834.23 L416.30,834.21 L417.30,834.20 L418.30,834.18 L419.30,834.15 L420.30,834.13 L421.30,834.10 L422.30,834.07 L423.30,834.03 L424.30,833.99 L425.30,833.95 L426.30,833.90 L427.30,833.85 L428.30,833.79 L429.30,833.73 L430.30,833.67 L431.30,833.61 L432.30,833.54 L433.30,833.47 L434.30,833.40 L435.30,833.32 L436.30,833.24 L437.30,833.17 L438.30,833.09 L439.30,833.01 L440.30,832.92 L441.30,832.83 L442.30,832.74 L443.30,832.64 L444.30,832.54 L445.30,832.42 L446.30,832.28 L447.30,832.13 L448.30,831.96 L449.30,831.75 L450.30,831.51 L451.30,831.23 L452.30,830.90 L453.30,830.52 L454.30,830.07 L455.30,829.56 L456.30,828.96 L457.30,828.28 L458.30,827.50 L459.30,826.63 L460.30,825.65 L461.30,824.56 L462.30,823.36 L463.30,822.05 L464.30,820.63 L465.30,819.11 L466.30,817.48 L467.30,815.76 L468.30,813.95 L469.30,812.07 L470.30,810.14 L471.30,808.16 L472.30,806.16 L473.30,804.15 L474.30,802.15 L475.30,800.18 L476.30,798.25 L477.30,796.37 L478.30,794.57 L479.30,792.84 L480.30,791.20 L481.30,789.65 L482.30,788.17 L483.30,786.77 L484.30,785.44 L485.30,784.16 L486.30,782.90 L487.30,781.65 L488.30,780.38 L489.30,779.06 L490.30,777.66 L491.30,776.14 L492.30,774.48 L493.30,772.64 L494.30,770.59 L495.30,768.31 L496.30,765.78 L497.30,762.98 L498.30,759.89 L499.30,756.51 L500.30,752.85 L501.30,748.90 L502.30,744.68 L503.30,740.22 L504.30,735.54 L505.30,730.68 L506.30,725.69 L507.30,720.61 L508.30,715.49 L509.30,710.40 L510.30,705.40 L511.30,700.56 L512.30,695.93 L513.30,691.59 L514.30,687.61 L515.30,684.03 L516.30,680.92 L517.30,678.33 L518.30,676.29 L519.30,674.85 L520.30,674.01 L521.30,673.80 L522.30,674.21 L523.30,675.23 L524.30,676.83 L525.30,678.97 L526.30,681.61 L527.30,684.70 L528.30,688.16 L529.30,691.92 L530.30,695.91 L531.30,700.05 L532.30,704.26 L533.30,708.47 L534.30,712.60 L535.30,716.58 L536.30,720.37 L537.30,723.91 L538.30,727.16 L539.30,730.11 L540.30,732.73 L541.30,735.04 L542.30,737.03 L543.30,738.73 L544.30,740.16 L545.30,741.38 L546.30,742.41 L547.30,743.32 L548.30,744.14 L549.30,744.94 L550.30,745.75 L551.30,746.64 L552.30,747.63 L553.30,748.76 L554.30,750.07 L555.30,751.57 L556.30,753.28 L557.30,755.19 L558.30,757.32 L559.30,759.64 L560.30,762.13 L561.30,764.79 L562.30,767.57 L563.30,770.45 L564.30,773.40 L565.30,776.39 L566.30,779.38 L567.30,782.33 L568.30,785.23 L569.30,788.05 L570.30,790.75 L571.30,793.34 L572.30,795.78 L573.30,798.07 L574.30,800.20 L575.30,802.18 L576.30,803.99 L577.30,805.65 L578.30,807.17 L579.30,808.55 L580.30,809.80 L581.30,810.94 L582.30,811.98 L583.30,812.92 L584.30,813.80 L585.30,814.61 L586.30,815.36 L587.30,816.08 L588.30,816.77 L589.30,817.44 L590.30,818.09 L591.30,818.73 L592.30,819.36 L593.30,819.99 L594.30,820.63 L595.30,821.26 L596.30,821.89 L597.30,822.52 L598.30,823.14 L599.30,823.76 L600.30,824.36 L601.30,824.96 L602.30,825.53 L603.30,826.09 L604.30,826.62 L605.30,827.13 L606.30,827.61 L607.30,828.05 L608.30,828.47 L609.30,828.86 L610.30,829.21 L611.30,829.54 L612.30,829.83 L613.30,830.09 L614.30,830.33 L615.30,830.55 L616.30,830.74 L617.30,830.91 L618.30,831.07 L619.30,831.21 L620.30,831.34 L621.30,831.46 L622.30,831.58 L623.30,831.69 L624.30,831.80 L625.30,831.91 L626.30,832.01 L627.30,832.12 L628.30,832.23 L629.30,832.34 L630.30,832.45 L631.30,832.56 L632.30,832.67 L633.30,832.79 L634.30,832.90 L635.30,833.01 L636.30,833.11 L637.30,833.22 L638.30,833.32 L639.30,833.41 L640.30,833.50 L641.30,833.59 L642.30,833.67 L643.30,833.74 L644.30,833.81 L645.30,833.87 L646.30,833.93 L647.30,833.98 L648.30,834.03 L649.30,834.07 L650.30,834.10 L651.30,834.13 L652.30,834.16 L653.30,834.18 L654.30,834.20 L655.30,834.22 L656.30,834.24 L657.30,834.25 L658.30,834.26 L659.30,834.27 L660.30,834.27 L661.30,834.28 L662.30,834.28" fill="none" stroke="#ff0000" stroke-width="2.2" stroke-linejoin="round" stroke-linecap="butt"/>
<text class="tl" x="397.00" y="840.93" text-anchor="end">0.0</text>
<text class="tl" x="397.00" y="780.23" text-anchor="end">0.2</text>
<text class="tl" x="397.00" y="719.53" text-anchor="end">0.4</text>
<text class="tl" transform="translate(452.45,846.40) rotate(-45)" x="0" y="0" text-anchor="end">0.01</text>
<text class="tl" transform="translate(485.80,846.40) rotate(-45)" x="0" y="0" text-anchor="end">0.05</text>
<text class="tl" transform="translate(515.96,846.40) rotate(-45)" x="0" y="0" text-anchor="end">0.1</text>
<text class="tl" transform="translate(552.50,846.40) rotate(-45)" x="0" y="0" text-anchor="end">0.15</text>
<text class="tl" transform="translate(582.66,846.40) rotate(-45)" x="0" y="0" text-anchor="end">0.2</text>
<text class="tl" transform="translate(616.01,846.40) rotate(-45)" x="0" y="0" text-anchor="end">0.3</text>
<text class="tl" transform="translate(649.36,846.40) rotate(-45)" x="0" y="0" text-anchor="end">0.6</text>
<text class="al" x="541.95" y="889.20" text-anchor="middle">Aspect ratio</text>
<text class="al" transform="translate(366.00,750.05) rotate(-90)" x="0" y="0" text-anchor="middle" style="font-size:19.60px">Density</text>
<text class="tt" transform="translate(535.30,659.30) scale(1.170,1)" style="font-size:24.00px">&#956;</text>
<rect x="49.00" y="933.40" width="283.60" height="168.30" fill="#eeeeee"/>
<rect x="104.10" y="1061.70" width="24.60" height="39.70" fill="#348ABD" stroke="#000" stroke-width="1.3"/>
<rect x="128.70" y="1005.70" width="24.70" height="95.70" fill="#348ABD" stroke="#000" stroke-width="1.3"/>
<rect x="153.40" y="991.30" width="24.80" height="110.10" fill="#348ABD" stroke="#000" stroke-width="1.3"/>
<rect x="178.20" y="941.60" width="24.80" height="159.80" fill="#348ABD" stroke="#000" stroke-width="1.3"/>
<rect x="203.00" y="1037.90" width="24.80" height="63.50" fill="#348ABD" stroke="#000" stroke-width="1.3"/>
<rect x="227.80" y="1088.80" width="24.70" height="12.60" fill="#348ABD" stroke="#000" stroke-width="1.3"/>
<rect x="252.50" y="1073.20" width="24.80" height="28.20" fill="#348ABD" stroke="#000" stroke-width="1.3"/>
<line x1="49.00" y1="1101.80" x2="52.20" y2="1101.80" stroke="#222" stroke-width="1.2"/>
<line x1="49.00" y1="1050.30" x2="52.20" y2="1050.30" stroke="#222" stroke-width="1.2"/>
<line x1="49.00" y1="998.80" x2="52.20" y2="998.80" stroke="#222" stroke-width="1.2"/>
<line x1="49.00" y1="947.30" x2="52.20" y2="947.30" stroke="#222" stroke-width="1.2"/>
<rect x="49.00" y="933.40" width="283.60" height="168.30" fill="none" stroke="#bcbcbc" stroke-width="1.3"/>
<path d="M61.30,1101.49 L62.30,1101.44 L63.30,1101.39 L64.30,1101.32 L65.30,1101.25 L66.30,1101.16 L67.30,1101.07 L68.30,1100.96 L69.30,1100.84 L70.30,1100.71 L71.30,1100.56 L72.30,1100.39 L73.30,1100.20 L74.30,1100.00 L75.30,1099.77 L76.30,1099.51 L77.30,1099.23 L78.30,1098.93 L79.30,1098.59 L80.30,1098.23 L81.30,1097.83 L82.30,1097.39 L83.30,1096.92 L84.30,1096.41 L85.30,1095.87 L86.30,1095.28 L87.30,1094.64 L88.30,1093.97 L89.30,1093.24 L90.30,1092.47 L91.30,1091.66 L92.30,1090.79 L93.30,1089.88 L94.30,1088.91 L95.30,1087.90 L96.30,1086.84 L97.30,1085.73 L98.30,1084.57 L99.30,1083.37 L100.30,1082.11 L101.30,1080.82 L102.30,1079.48 L103.30,1078.09 L104.30,1076.67 L105.30,1075.21 L106.30,1073.71 L107.30,1072.18 L108.30,1070.62 L109.30,1069.03 L110.30,1067.41 L111.30,1065.77 L112.30,1064.10 L113.30,1062.42 L114.30,1060.72 L115.30,1059.01 L116.30,1057.28 L117.30,1055.55 L118.30,1053.81 L119.30,1052.07 L120.30,1050.32 L121.30,1048.57 L122.30,1046.82 L123.30,1045.07 L124.30,1043.33 L125.30,1041.60 L126.30,1039.87 L127.30,1038.15 L128.30,1036.44 L129.30,1034.74 L130.30,1033.05 L131.30,1031.38 L132.30,1029.71 L133.30,1028.07 L134.30,1026.44 L135.30,1024.82 L136.30,1023.23 L137.30,1021.65 L138.30,1020.09 L139.30,1018.55 L140.30,1017.03 L141.30,1015.53 L142.30,1014.04 L143.30,1012.58 L144.30,1011.14 L145.30,1009.72 L146.30,1008.32 L147.30,1006.94 L148.30,1005.57 L149.30,1004.23 L150.30,1002.90 L151.30,1001.59 L152.30,1000.29 L153.30,999.00 L154.30,997.73 L155.30,996.48 L156.30,995.23 L157.30,993.99 L158.30,992.77 L159.30,991.55 L160.30,990.34 L161.30,989.15 L162.30,987.96 L163.30,986.79 L164.30,985.63 L165.30,984.49 L166.30,983.37 L167.30,982.26 L168.30,981.19 L169.30,980.14 L170.30,979.13 L171.30,978.16 L172.30,977.23 L173.30,976.36 L174.30,975.54 L175.30,974.79 L176.30,974.11 L177.30,973.50 L178.30,972.98 L179.30,972.55 L180.30,972.22 L181.30,972.00 L182.30,971.88 L183.30,971.88 L184.30,972.00 L185.30,972.25 L186.30,972.62 L187.30,973.12 L188.30,973.76 L189.30,974.53 L190.30,975.43 L191.30,976.47 L192.30,977.65 L193.30,978.95 L194.30,980.39 L195.30,981.94 L196.30,983.62 L197.30,985.42 L198.30,987.32 L199.30,989.33 L200.30,991.44 L201.30,993.63 L202.30,995.91 L203.30,998.26 L204.30,1000.68 L205.30,1003.15 L206.30,1005.68 L207.30,1008.25 L208.30,1010.85 L209.30,1013.47 L210.30,1016.11 L211.30,1018.76 L212.30,1021.40 L213.30,1024.04 L214.30,1026.67 L215.30,1029.27 L216.30,1031.84 L217.30,1034.38 L218.30,1036.87 L219.30,1039.32 L220.30,1041.71 L221.30,1044.04 L222.30,1046.31 L223.30,1048.51 L224.30,1050.63 L225.30,1052.69 L226.30,1054.66 L227.30,1056.55 L228.30,1058.36 L229.30,1060.09 L230.30,1061.73 L231.30,1063.28 L232.30,1064.75 L233.30,1066.13 L234.30,1067.42 L235.30,1068.63 L236.30,1069.75 L237.30,1070.80 L238.30,1071.77 L239.30,1072.66 L240.30,1073.48 L241.30,1074.23 L242.30,1074.92 L243.30,1075.55 L244.30,1076.12 L245.30,1076.64 L246.30,1077.12 L247.30,1077.55 L248.30,1077.95 L249.30,1078.31 L250.30,1078.65 L251.30,1078.97 L252.30,1079.28 L253.30,1079.57 L254.30,1079.85 L255.30,1080.13 L256.30,1080.41 L257.30,1080.69 L258.30,1080.98 L259.30,1081.29 L260.30,1081.60 L261.30,1081.93 L262.30,1082.27 L263.30,1082.63 L264.30,1083.01 L265.30,1083.41 L266.30,1083.83 L267.30,1084.27 L268.30,1084.72 L269.30,1085.20 L270.30,1085.69 L271.30,1086.19 L272.30,1086.71 L273.30,1087.24 L274.30,1087.78 L275.30,1088.33 L276.30,1088.88 L277.30,1089.44 L278.30,1090.00 L279.30,1090.56 L280.30,1091.12 L281.30,1091.67 L282.30,1092.21 L283.30,1092.75 L284.30,1093.28 L285.30,1093.79 L286.30,1094.29 L287.30,1094.77 L288.30,1095.24 L289.30,1095.70 L290.30,1096.13 L291.30,1096.55 L292.30,1096.94 L293.30,1097.32 L294.30,1097.68 L295.30,1098.02 L296.30,1098.34 L297.30,1098.64 L298.30,1098.92 L299.30,1099.18 L300.30,1099.42 L301.30,1099.65 L302.30,1099.86 L303.30,1100.05 L304.30,1100.23 L305.30,1100.39 L306.30,1100.54 L307.30,1100.68 L308.30,1100.80 L309.30,1100.91 L310.30,1101.01 L311.30,1101.11 L312.30,1101.19 L313.30,1101.26 L314.30,1101.33 L315.30,1101.39 L316.30,1101.44 L317.30,1101.49 L318.30,1101.53 L319.30,1101.56 L320.30,1101.60" fill="none" stroke="#ff0000" stroke-width="2.2" stroke-linejoin="round" stroke-linecap="butt"/>
<text class="tl" x="45.50" y="1108.43" text-anchor="end">0.0</text>
<text class="tl" x="45.50" y="1056.93" text-anchor="end">0.1</text>
<text class="tl" x="45.50" y="1005.43" text-anchor="end">0.2</text>
<text class="tl" x="45.50" y="953.93" text-anchor="end">0.3</text>
<text class="tl" transform="translate(118.45,1113.90) rotate(-45)" x="0" y="0" text-anchor="end">0.05</text>
<text class="tl" transform="translate(139.91,1113.90) rotate(-45)" x="0" y="0" text-anchor="end">0.1</text>
<text class="tl" transform="translate(167.85,1113.90) rotate(-45)" x="0" y="0" text-anchor="end">0.15</text>
<text class="tl" transform="translate(189.46,1113.90) rotate(-45)" x="0" y="0" text-anchor="end">0.2</text>
<text class="tl" transform="translate(214.26,1113.90) rotate(-45)" x="0" y="0" text-anchor="end">0.3</text>
<text class="tl" transform="translate(239.01,1113.90) rotate(-45)" x="0" y="0" text-anchor="end">0.4</text>
<text class="tl" transform="translate(263.76,1113.90) rotate(-45)" x="0" y="0" text-anchor="end">0.5</text>
<text class="al" x="190.80" y="1156.70" text-anchor="middle">Aspect ratio</text>
<text class="al" transform="translate(14.50,1017.55) rotate(-90)" x="0" y="0" text-anchor="middle" style="font-size:19.60px">Density</text>
<text class="tt" transform="translate(178.00,927.50) scale(1.000,1)" style="font-size:26.00px">V</text>
<text class="tt" transform="translate(192.00,931.50) scale(1.120,1)" style="font-size:17.80px">P</text>
<rect x="400.50" y="933.40" width="282.90" height="168.30" fill="#eeeeee"/>
<rect x="435.90" y="1078.90" width="30.40" height="22.50" fill="#348ABD" stroke="#000" stroke-width="1.3"/>
<rect x="466.30" y="943.10" width="30.50" height="158.30" fill="#348ABD" stroke="#000" stroke-width="1.3"/>
<rect x="496.80" y="972.00" width="30.20" height="129.40" fill="#348ABD" stroke="#000" stroke-width="1.3"/>
<rect x="527.00" y="1073.80" width="30.40" height="27.60" fill="#348ABD" stroke="#000" stroke-width="1.3"/>
<rect x="557.40" y="1097.70" width="30.20" height="3.70" fill="#348ABD" stroke="#000" stroke-width="1.3"/>
<line x1="617.60" y1="1098.30" x2="617.60" y2="1101.60" stroke="#000" stroke-width="1.3"/>
<line x1="400.50" y1="1101.60" x2="403.70" y2="1101.60" stroke="#222" stroke-width="1.2"/>
<line x1="400.50" y1="1067.10" x2="403.70" y2="1067.10" stroke="#222" stroke-width="1.2"/>
<line x1="400.50" y1="1032.60" x2="403.70" y2="1032.60" stroke="#222" stroke-width="1.2"/>
<line x1="400.50" y1="998.10" x2="403.70" y2="998.10" stroke="#222" stroke-width="1.2"/>
<line x1="400.50" y1="963.60" x2="403.70" y2="963.60" stroke="#222" stroke-width="1.2"/>
<rect x="400.50" y="933.40" width="282.90" height="168.30" fill="none" stroke="#bcbcbc" stroke-width="1.3"/>
<path d="M412.30,1101.45 L413.30,1101.40 L414.30,1101.33 L415.30,1101.25 L416.30,1101.14 L417.30,1101.00 L418.30,1100.84 L419.30,1100.63 L420.30,1100.39 L421.30,1100.09 L422.30,1099.74 L423.30,1099.32 L424.30,1098.84 L425.30,1098.29 L426.30,1097.67 L427.30,1096.97 L428.30,1096.19 L429.30,1095.35 L430.30,1094.43 L431.30,1093.44 L432.30,1092.40 L433.30,1091.32 L434.30,1090.20 L435.30,1089.06 L436.30,1087.91 L437.30,1086.77 L438.30,1085.63 L439.30,1084.52 L440.30,1083.44 L441.30,1082.39 L442.30,1081.37 L443.30,1080.37 L444.30,1079.37 L445.30,1078.37 L446.30,1077.33 L447.30,1076.24 L448.30,1075.07 L449.30,1073.77 L450.30,1072.34 L451.30,1070.72 L452.30,1068.90 L453.30,1066.85 L454.30,1064.54 L455.30,1061.95 L456.30,1059.08 L457.30,1055.90 L458.30,1052.41 L459.30,1048.61 L460.30,1044.50 L461.30,1040.08 L462.30,1035.35 L463.30,1030.34 L464.30,1025.05 L465.30,1019.51 L466.30,1013.73 L467.30,1007.76 L468.30,1001.64 L469.30,995.41 L470.30,989.13 L471.30,982.89 L472.30,976.75 L473.30,970.81 L474.30,965.16 L475.30,959.90 L476.30,955.12 L477.30,950.92 L478.30,947.36 L479.30,944.53 L480.30,942.45 L481.30,941.16 L482.30,940.64 L483.30,940.87 L484.30,941.78 L485.30,943.31 L486.30,945.34 L487.30,947.76 L488.30,950.44 L489.30,953.24 L490.30,956.06 L491.30,958.75 L492.30,961.23 L493.30,963.40 L494.30,965.22 L495.30,966.64 L496.30,967.66 L497.30,968.29 L498.30,968.57 L499.30,968.55 L500.30,968.30 L501.30,967.88 L502.30,967.39 L503.30,966.88 L504.30,966.45 L505.30,966.14 L506.30,966.02 L507.30,966.14 L508.30,966.52 L509.30,967.20 L510.30,968.20 L511.30,969.52 L512.30,971.18 L513.30,973.17 L514.30,975.50 L515.30,978.16 L516.30,981.14 L517.30,984.44 L518.30,988.03 L519.30,991.89 L520.30,996.00 L521.30,1000.32 L522.30,1004.81 L523.30,1009.43 L524.30,1014.11 L525.30,1018.81 L526.30,1023.47 L527.30,1028.02 L528.30,1032.42 L529.30,1036.62 L530.30,1040.57 L531.30,1044.23 L532.30,1047.60 L533.30,1050.66 L534.30,1053.41 L535.30,1055.86 L536.30,1058.04 L537.30,1059.97 L538.30,1061.69 L539.30,1063.24 L540.30,1064.66 L541.30,1065.99 L542.30,1067.27 L543.30,1068.52 L544.30,1069.77 L545.30,1071.04 L546.30,1072.34 L547.30,1073.67 L548.30,1075.03 L549.30,1076.41 L550.30,1077.80 L551.30,1079.20 L552.30,1080.57 L553.30,1081.91 L554.30,1083.20 L555.30,1084.44 L556.30,1085.61 L557.30,1086.70 L558.30,1087.72 L559.30,1088.67 L560.30,1089.54 L561.30,1090.34 L562.30,1091.08 L563.30,1091.77 L564.30,1092.41 L565.30,1093.02 L566.30,1093.59 L567.30,1094.14 L568.30,1094.67 L569.30,1095.18 L570.30,1095.67 L571.30,1096.14 L572.30,1096.59 L573.30,1097.03 L574.30,1097.44 L575.30,1097.83 L576.30,1098.20 L577.30,1098.53 L578.30,1098.83 L579.30,1099.10 L580.30,1099.34 L581.30,1099.54 L582.30,1099.72 L583.30,1099.86 L584.30,1099.98 L585.30,1100.08 L586.30,1100.15 L587.30,1100.21 L588.30,1100.26 L589.30,1100.30 L590.30,1100.33 L591.30,1100.35 L592.30,1100.38 L593.30,1100.41 L594.30,1100.43 L595.30,1100.47 L596.30,1100.50 L597.30,1100.54 L598.30,1100.59 L599.30,1100.63 L600.30,1100.68 L601.30,1100.73 L602.30,1100.78 L603.30,1100.83 L604.30,1100.88 L605.30,1100.91 L606.30,1100.95 L607.30,1100.97 L608.30,1100.99 L609.30,1100.99 L610.30,1100.99 L611.30,1100.97 L612.30,1100.95 L613.30,1100.91 L614.30,1100.87 L615.30,1100.81 L616.30,1100.75 L617.30,1100.69 L618.30,1100.62 L619.30,1100.55 L620.30,1100.48 L621.30,1100.41 L622.30,1100.35 L623.30,1100.29 L624.30,1100.24 L625.30,1100.20 L626.30,1100.17 L627.30,1100.15 L628.30,1100.14 L629.30,1100.14 L630.30,1100.16 L631.30,1100.18 L632.30,1100.21 L633.30,1100.25 L634.30,1100.29 L635.30,1100.34 L636.30,1100.39 L637.30,1100.44 L638.30,1100.49 L639.30,1100.53 L640.30,1100.57 L641.30,1100.60 L642.30,1100.63 L643.30,1100.66 L644.30,1100.67 L645.30,1100.68 L646.30,1100.69 L647.30,1100.70 L648.30,1100.70 L649.30,1100.70 L650.30,1100.70 L651.30,1100.70 L652.30,1100.70 L653.30,1100.71 L654.30,1100.72 L655.30,1100.74 L656.30,1100.76 L657.30,1100.79 L658.30,1100.82 L659.30,1100.86 L660.30,1100.90 L661.30,1100.94 L662.30,1100.99 L663.30,1101.04 L664.30,1101.09 L665.30,1101.14 L666.30,1101.18 L667.30,1101.23 L668.30,1101.27 L669.30,1101.32 L670.30,1101.35 L671.30,1101.39" fill="none" stroke="#ff0000" stroke-width="2.2" stroke-linejoin="round" stroke-linecap="butt"/>
<text class="tl" x="397.00" y="1108.23" text-anchor="end">0.0</text>
<text class="tl" x="397.00" y="1073.73" text-anchor="end">0.1</text>
<text class="tl" x="397.00" y="1039.23" text-anchor="end">0.2</text>
<text class="tl" x="397.00" y="1004.73" text-anchor="end">0.3</text>
<text class="tl" x="397.00" y="970.23" text-anchor="end">0.4</text>
<text class="tl" transform="translate(449.65,1113.90) rotate(-45)" x="0" y="0" text-anchor="end">0.05</text>
<text class="tl" transform="translate(476.86,1113.90) rotate(-45)" x="0" y="0" text-anchor="end">0.1</text>
<text class="tl" transform="translate(510.45,1113.90) rotate(-45)" x="0" y="0" text-anchor="end">0.15</text>
<text class="tl" transform="translate(537.66,1113.90) rotate(-45)" x="0" y="0" text-anchor="end">0.2</text>
<text class="tl" transform="translate(568.06,1113.90) rotate(-45)" x="0" y="0" text-anchor="end">0.3</text>
<text class="tl" transform="translate(598.46,1113.90) rotate(-45)" x="0" y="0" text-anchor="end">0.4</text>
<text class="tl" transform="translate(628.86,1113.90) rotate(-45)" x="0" y="0" text-anchor="end">0.5</text>
<text class="al" x="541.95" y="1156.70" text-anchor="middle">Aspect ratio</text>
<text class="al" transform="translate(366.00,1017.55) rotate(-90)" x="0" y="0" text-anchor="middle" style="font-size:19.60px">Density</text>
<text class="tt" transform="translate(529.60,927.50) scale(1.000,1)" style="font-size:26.00px">V</text>
<text class="tt" transform="translate(544.00,931.50) scale(1.080,1)" style="font-size:17.80px">S</text>
</svg></body></html>
